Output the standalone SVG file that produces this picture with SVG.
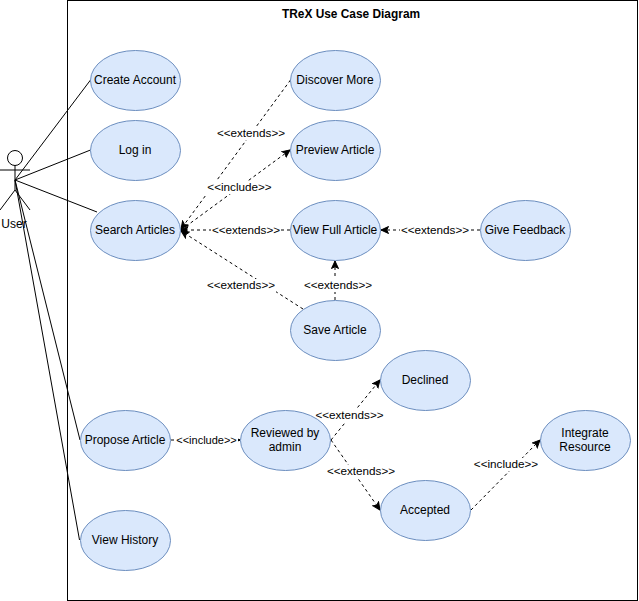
<svg xmlns="http://www.w3.org/2000/svg" width="639" height="601" viewBox="0 0 639 601">
<style>
text{font-family:"Liberation Sans",Arial,sans-serif;font-size:12px;fill:#000;text-anchor:middle}
.n ellipse{fill:#dae8fc;stroke:#6c8ebf;stroke-width:1}
.a{fill:none;stroke:#000;stroke-width:1}
.s{fill:none;stroke:#000;stroke-width:1}
.d{fill:none;stroke:#000;stroke-width:1;stroke-dasharray:3 3;marker-end:url(#arr)}
.l{fill:#fff}
.t{font-size:11.7px}
.u{font-size:11px}
</style>
<defs>
<marker id="arr" markerUnits="userSpaceOnUse" markerWidth="10" markerHeight="10" refX="8" refY="4" orient="auto">
<path d="M0.5 0.5L8 4L0.5 7.5L2.3 4Z" fill="#000" stroke="#000" stroke-width="1"/>
</marker>
</defs>
<rect width="639" height="601" fill="#fff"/>
<g id="system"><rect x="67.500" y="0.500" width="570" height="600" class="a" fill="#fff"/>
<text x="351" y="18" style="font-weight:bold;font-size:11.900px">TReX Use Case Diagram</text></g>
<g id="connectors">
<path class="s" d="M15 180L90.500 80M15 180L90.500 150M15 180L97 212M15 180L80 440M15 180L79.500 540"/>
<path class="d" d="M290.500 80L181 229"/>
<path class="d" d="M181 230L290 150"/>
<path class="d" d="M290 230L180.500 230"/>
<path class="d" d="M303 309L181 231"/>
<path class="d" d="M480 230L381 230"/>
<path class="d" d="M335 300L335 261"/>
<path class="d" d="M171 440L240 440"/>
<path class="d" d="M331 440L380 380"/>
<path class="d" d="M331 440L380 510"/>
<path class="d" d="M471 510L540 440"/>
<g>
<rect class="l" x="216" y="127" width="70" height="13"/><text class="t" x="251" y="137">&lt;&lt;extends&gt;&gt;</text>
<rect class="l" x="206" y="181" width="66" height="13"/><text class="t" x="239.500" y="191">&lt;&lt;include&gt;&gt;</text>
<rect class="l" x="211" y="224" width="70" height="13"/><text class="t" x="246" y="234">&lt;&lt;extends&gt;&gt;</text>
<rect class="l" x="206" y="279" width="70" height="13"/><text class="t" x="241" y="289">&lt;&lt;extends&gt;&gt;</text>
<rect class="l" x="400" y="224" width="70" height="13"/><text class="t" x="435" y="234">&lt;&lt;extends&gt;&gt;</text>
<rect class="l" x="303" y="279" width="70" height="13"/><text class="t" x="338" y="289">&lt;&lt;extends&gt;&gt;</text>
<rect class="l" x="175" y="434" width="63" height="13"/><text class="u" x="206.500" y="444">&lt;&lt;include&gt;&gt;</text>
<rect class="l" x="315" y="409" width="70" height="13"/><text class="t" x="349.500" y="419">&lt;&lt;extends&gt;&gt;</text>
<rect class="l" x="326" y="465" width="70" height="13"/><text class="t" x="361" y="475">&lt;&lt;extends&gt;&gt;</text>
<rect class="l" x="473" y="458" width="66" height="13"/><text class="t" x="506" y="468">&lt;&lt;include&gt;&gt;</text>
</g>
</g>
<g id="user"><circle cx="15" cy="158" r="7.500" class="a" fill="#fff"/>
<path class="s" d="M15 165.500V190M0 170H30M15 190L0 210M15 190L30 210"/>
<text x="14" y="228">User</text></g>
<g id="create-account" class="n"><ellipse cx="135.500" cy="80.500" rx="45" ry="30"/><text x="135" y="84">Create Account</text></g>
<g id="log-in" class="n"><ellipse cx="135.500" cy="150.500" rx="45" ry="30"/><text x="135" y="154">Log in</text></g>
<g id="search-articles" class="n"><ellipse cx="135.500" cy="230.500" rx="45" ry="30"/><text x="135" y="234">Search Articles</text></g>
<g id="discover-more" class="n"><ellipse cx="335.500" cy="80.500" rx="45" ry="30"/><text x="335" y="84">Discover More</text></g>
<g id="preview-article" class="n"><ellipse cx="335.500" cy="150.500" rx="45" ry="30"/><text x="335" y="154">Preview Article</text></g>
<g id="view-full-article" class="n"><ellipse cx="335.500" cy="230.500" rx="45" ry="30"/><text x="335" y="234">View Full Article</text></g>
<g id="give-feedback" class="n"><ellipse cx="525.500" cy="230.500" rx="45" ry="30"/><text x="525" y="234">Give Feedback</text></g>
<g id="save-article" class="n"><ellipse cx="335.500" cy="330.500" rx="45" ry="30"/><text x="335" y="334">Save Article</text></g>
<g id="declined" class="n"><ellipse cx="425.500" cy="380.500" rx="45" ry="30"/><text x="425" y="384">Declined</text></g>
<g id="propose-article" class="n"><ellipse cx="125.500" cy="440.500" rx="45" ry="30"/><text x="125" y="444">Propose Article</text></g>
<g id="reviewed-by-admin" class="n"><ellipse cx="285.500" cy="440.500" rx="45" ry="30"/><text x="285" y="437">Reviewed by</text><text x="285" y="451">admin</text></g>
<g id="integrate-resource" class="n"><ellipse cx="585.500" cy="440.500" rx="45" ry="30"/><text x="585" y="437">Integrate</text><text x="585" y="451">Resource</text></g>
<g id="accepted" class="n"><ellipse cx="425.500" cy="510.500" rx="45" ry="30"/><text x="425" y="514">Accepted</text></g>
<g id="view-history" class="n"><ellipse cx="125.500" cy="540.500" rx="45" ry="30"/><text x="125" y="544">View History</text></g>
</svg>
